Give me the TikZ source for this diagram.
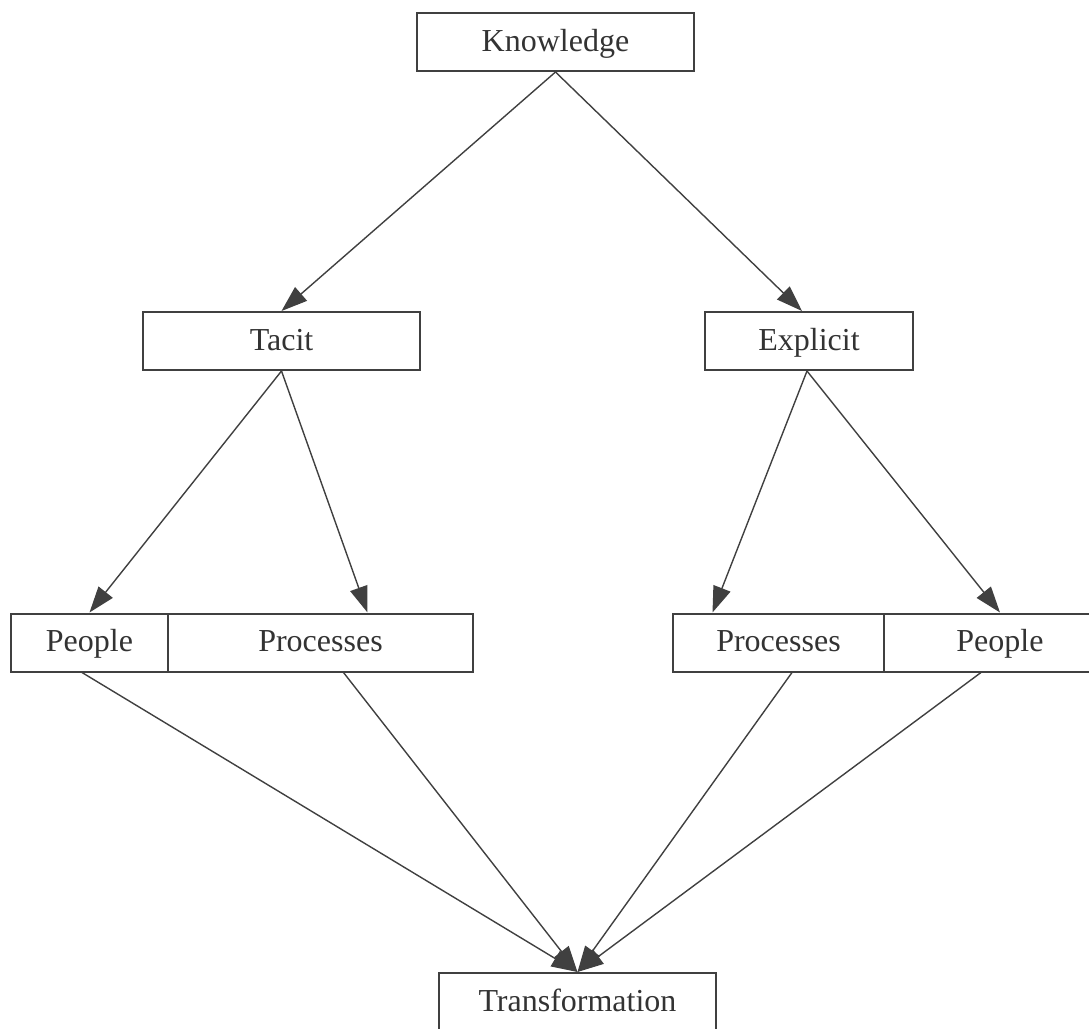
\documentclass[tikz,border=0pt]{standalone}
\usepackage{fontspec}
\setmainfont{Liberation Serif}
\usetikzlibrary{arrows.meta}
\definecolor{linegray}{RGB}{64,64,64}
\definecolor{textgray}{RGB}{51,51,51}
\begin{document}
\begin{tikzpicture}[x=0.5pt, y=-0.5pt, line width=0.7pt, draw=linegray, text=textgray,
  font=\fontsize{16}{19}\selectfont,
  box/.style={draw=linegray, line width=1pt, minimum height=29pt, inner sep=0pt,
    text height=12pt, text depth=3pt},
  edge/.style={-{Triangle[length=13pt,width=9pt]}, linegray}]
\useasboundingbox (0,0) rectangle (1089,1029);
\clip (0,0) rectangle (1089,1029);
\node[box, minimum width=138.5pt] (P_0_0) at (555.5,42) {Knowledge};
\node[box, minimum width=138.5pt] (P_1_0) at (281.5,341) {Tacit};
\node[box, minimum width=104pt] (P_1_1) at (809,341) {Explicit};
\draw[edge] (P_0_0.south) -- (P_1_0.north);
\draw[edge] (P_0_0.south) -- ([xshift=-3.5pt]P_1_1.north);
\node[box, minimum width=78.5pt] (P_2_0) at (89.5,642.5) {People};
\node[box, minimum width=152.5pt] (P_2_1) at (320.5,642.5) {Processes};
\node[box, minimum width=105.5pt] (P_2_2) at (778.5,642.5) {Processes};
\node[box, minimum width=116pt] (P_2_3) at (1000,642.5) {People};
\draw[edge] (P_1_0.south) -- (P_2_0.north);
\draw[edge] (P_1_0.south) -- ([xshift=23.5pt]P_2_1.north);
\draw[edge] ([xshift=-1pt]P_1_1.south) -- ([xshift=-33pt]P_2_2.north);
\draw[edge] ([xshift=-1pt]P_1_1.south) -- (P_2_3.north);
\node[box, minimum width=138.5pt] (P_3_0) at (577.5,1002) {Transformation};
\draw[edge] ([xshift=-3.75pt]P_2_0.south) -- (P_3_0.north);
\draw[edge] ([xshift=11.5pt]P_2_1.south) -- (P_3_0.north);
\draw[edge] ([xshift=6.75pt]P_2_2.south) -- (P_3_0.north);
\draw[edge] ([xshift=-9.5pt]P_2_3.south) -- (P_3_0.north);
\end{tikzpicture}
\end{document}
